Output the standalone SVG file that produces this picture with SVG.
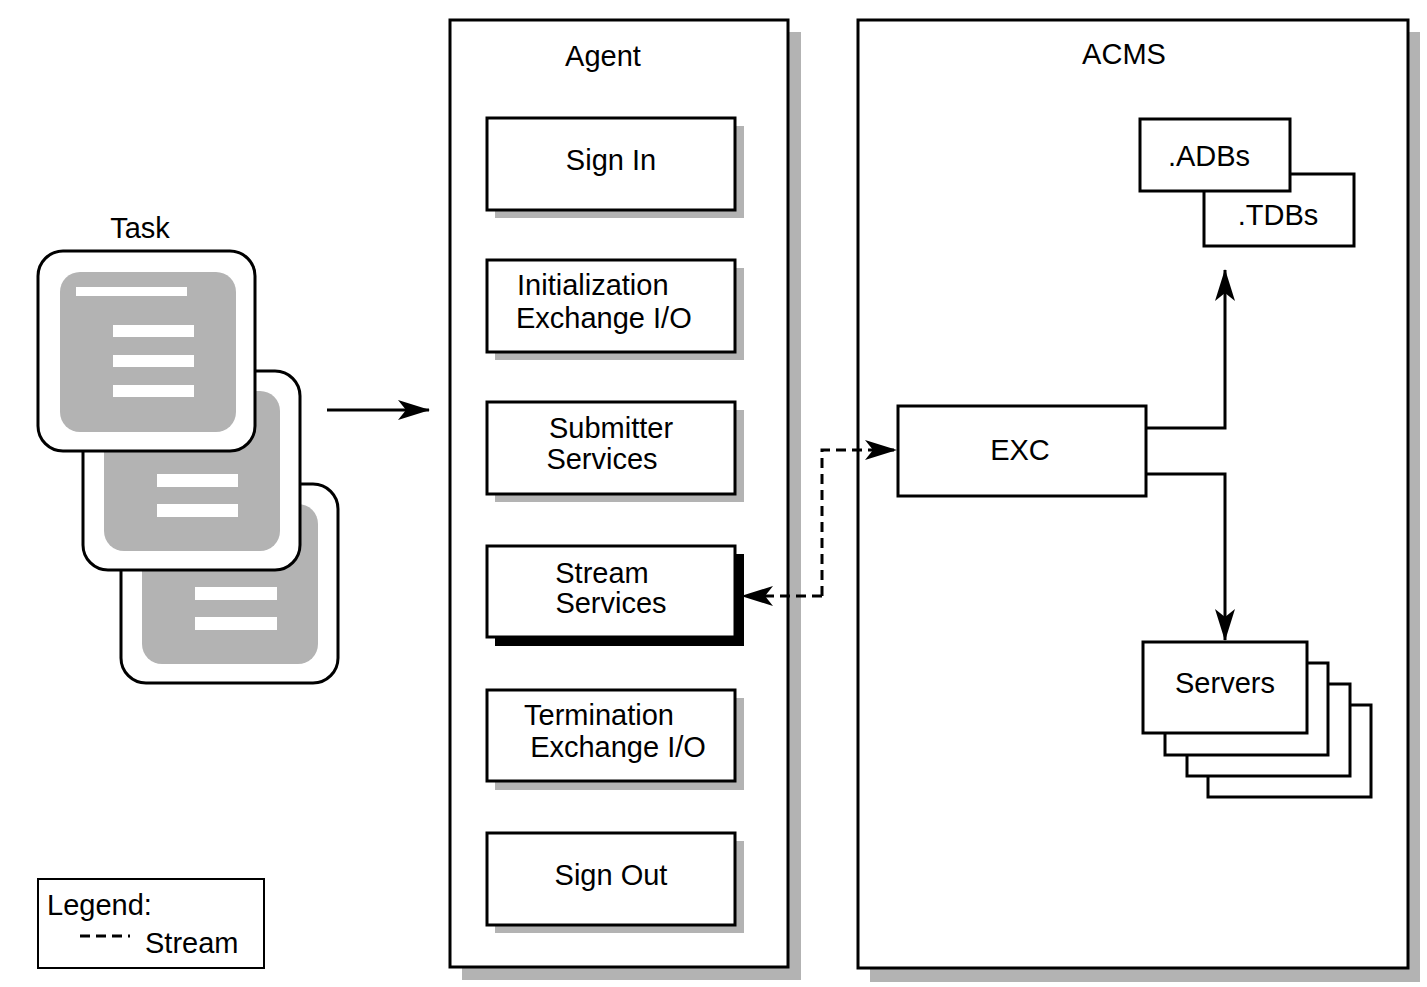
<svg xmlns="http://www.w3.org/2000/svg" width="1427" height="987" viewBox="0 0 1427 987">
<style>
text{font-family:"Liberation Sans",Arial,sans-serif;font-size:29px;fill:#000}
.b{fill:#fff;stroke:#000;stroke-width:3}
.sh{fill:#b3b3b3}
.card{fill:#fff;stroke:#000;stroke-width:3}
.scr{fill:#b3b3b3}
.ln{fill:#fff}
.c{fill:none;stroke:#000;stroke-width:3}
.d{fill:none;stroke:#000;stroke-width:3;stroke-dasharray:10,6}
</style>
<defs>
<marker id="a" markerWidth="12" markerHeight="10" refX="11" refY="5" orient="auto" markerUnits="userSpaceOnUse" viewBox="0 0 12 10"><path d="M0,0 L12,5 L0,10 L3,5 Z" fill="#000"/></marker>
<marker id="a2" markerWidth="32" markerHeight="20" refX="31" refY="10" orient="auto" markerUnits="userSpaceOnUse" viewBox="0 0 32 20"><path d="M0,0 L32,10 L0,20 L8,10 Z" fill="#000"/></marker>
</defs>
<g id="task">
<text x="140" y="238" text-anchor="middle">Task</text>
<rect class="card" x="121" y="484" width="217" height="199" rx="25"/>
<rect class="scr" x="142" y="504" width="176" height="160" rx="20"/>
<rect class="ln" x="195" y="587" width="82" height="13"/><rect class="ln" x="195" y="617" width="82" height="13"/>
<rect class="card" x="83" y="371" width="217" height="199" rx="25"/>
<rect class="scr" x="104" y="391" width="176" height="160" rx="20"/>
<rect class="ln" x="157" y="474" width="81" height="13"/><rect class="ln" x="157" y="504" width="81" height="13"/>
<rect class="card" x="38" y="251" width="217" height="200" rx="25"/>
<rect class="scr" x="60" y="272" width="176" height="160" rx="20"/>
<rect class="ln" x="76" y="287" width="111" height="9"/>
<rect class="ln" x="113" y="325" width="81" height="12"/><rect class="ln" x="113" y="355" width="81" height="12"/><rect class="ln" x="113" y="385" width="81" height="12"/>
</g>
<g id="agent">
<rect class="sh" x="462" y="32" width="339" height="948"/>
<rect class="b" x="450" y="20" width="338" height="947"/>
<text x="603" y="66" text-anchor="middle">Agent</text>
</g>
<g id="signin"><rect class="sh" x="495" y="126" width="249" height="92"/><rect class="b" x="487" y="118" width="248" height="92"/><text x="611" y="170" text-anchor="middle">Sign In</text></g>
<g id="init"><rect class="sh" x="495" y="268" width="249" height="92"/><rect class="b" x="487" y="260" width="248" height="92"/><text x="517" y="295">Initialization</text><text x="516" y="328">Exchange I/O</text></g>
<g id="submitter"><rect class="sh" x="495" y="410" width="249" height="92"/><rect class="b" x="487" y="402" width="248" height="92"/><text x="611" y="438" text-anchor="middle">Submitter</text><text x="602" y="469" text-anchor="middle">Services</text></g>
<g id="stream"><rect fill="#000" x="495" y="554" width="249" height="92"/><rect class="b" x="487" y="546" width="248" height="91"/><text x="602" y="583" text-anchor="middle">Stream</text><text x="611" y="613" text-anchor="middle">Services</text></g>
<g id="termination"><rect class="sh" x="495" y="698" width="249" height="92"/><rect class="b" x="487" y="690" width="248" height="91"/><text x="599" y="725" text-anchor="middle">Termination</text><text x="618" y="757" text-anchor="middle">Exchange I/O</text></g>
<g id="signout"><rect class="sh" x="495" y="841" width="249" height="92"/><rect class="b" x="487" y="833" width="248" height="92"/><text x="611" y="885" text-anchor="middle">Sign Out</text></g>
<g id="acms">
<rect class="sh" x="870" y="32" width="550" height="950"/>
<rect class="b" x="858" y="20" width="550" height="948"/>
<text x="1124" y="64" text-anchor="middle">ACMS</text>
</g>
<g id="tdbs"><rect class="b" x="1204" y="174" width="150" height="72"/><text x="1278" y="225" text-anchor="middle">.TDBs</text></g>
<g id="adbs"><rect class="b" x="1140" y="119" width="150" height="72"/><text x="1209" y="166" text-anchor="middle">.ADBs</text></g>
<g id="exc"><rect class="b" x="898" y="406" width="248" height="90"/><text x="1020" y="460" text-anchor="middle">EXC</text></g>
<g id="servers">
<rect class="b" x="1208" y="705" width="163" height="92"/>
<rect class="b" x="1187" y="684" width="163" height="92"/>
<rect class="b" x="1165" y="663" width="163" height="92"/>
<rect class="b" x="1143" y="642" width="164" height="91"/>
<text x="1225" y="693" text-anchor="middle">Servers</text>
</g>
<g id="connectors">
<path class="c" d="M327,410 H429" marker-end="url(#a2)"/>
<path class="c" d="M1146,428 H1225 V270" marker-end="url(#a2)"/>
<path class="c" d="M1146,474 H1225 V640" marker-end="url(#a2)"/>
<path class="d" d="M822,596 V450 H896" marker-end="url(#a2)"/>
<path class="d" d="M822,596 H742" marker-end="url(#a2)"/>
</g>
<g id="legend">
<rect x="38" y="879" width="226" height="89" fill="#fff" stroke="#000" stroke-width="2"/>
<text x="47" y="915">Legend:</text>
<path d="M80,936 H130" stroke="#000" stroke-width="3" stroke-dasharray="10,6"/>
<text x="145" y="953">Stream</text>
</g>
</svg>
